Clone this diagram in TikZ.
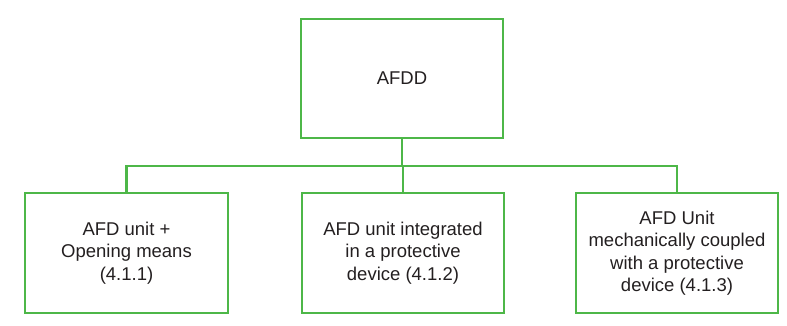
\documentclass[tikz,border=0pt]{standalone}
\usepackage{fontspec}
\setmainfont{Liberation Sans}
\definecolor{boxgreen}{HTML}{4DB748}
\definecolor{txt}{HTML}{231F20}
\begin{document}
\begin{tikzpicture}[x=1pt,y=-1pt,
  box/.style={draw=boxgreen, line width=2.6pt, minimum width=202pt, align=center,
    text=txt, font=\fontsize{18.5}{22.5}\selectfont, inner sep=0pt},
  link/.style={draw=boxgreen, line width=2.6pt}]
\useasboundingbox (0,0) rectangle (787,326);
\node[box, minimum height=119pt] (top) at (402,78.5) {AFDD};
\node[box, minimum width=203pt, minimum height=120pt] (a) at (126.5,253) {AFD unit +\\Opening means\\(4.1.1)};
\node[box, minimum height=120pt] (b) at (403,253) {AFD unit integrated\\in a protective\\device (4.1.2)};
\node[box, minimum height=120pt] (c) at (677,253) {AFD Unit\\mechanically coupled\\with a protective\\device (4.1.3)};
\coordinate (j) at (402,166);
\draw[link] (top.south) -- (j);
\draw[link] (a.north) |- (j) -| (c.north);
\draw[link] (b.north) -- (b.north |- j);
\end{tikzpicture}
\end{document}
